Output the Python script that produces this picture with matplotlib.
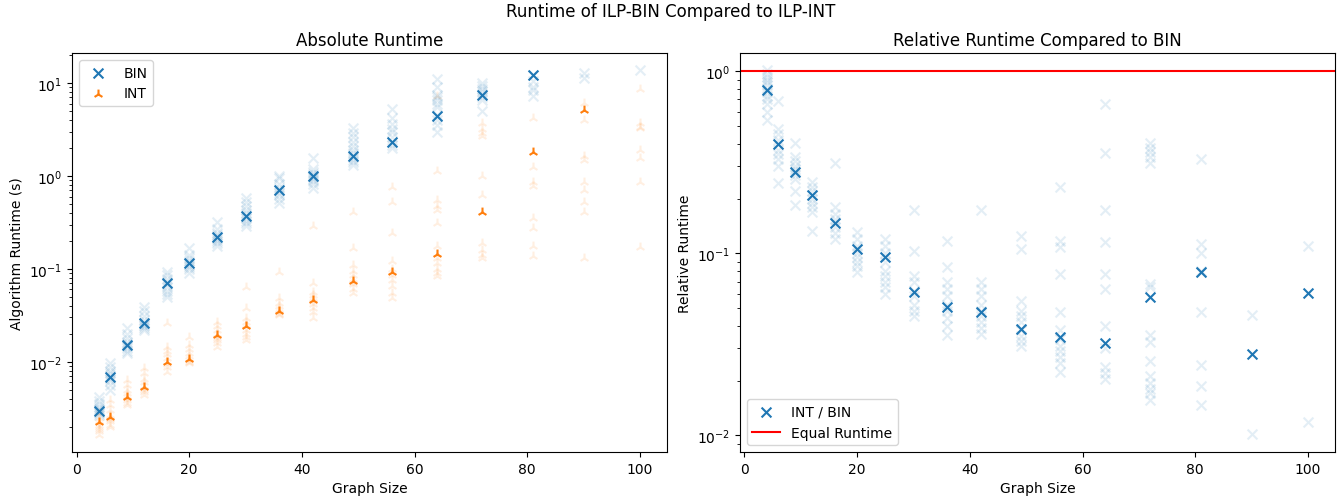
import matplotlib
matplotlib.use("Agg")
import matplotlib.pyplot as plt

# Graph sizes evaluated
sizes = [4, 6, 9, 12, 16, 20, 25, 30, 36, 42, 49, 56, 64, 72, 81, 90, 100]

# Individual runtimes (s) of ILP-BIN per graph size
bin_samples = [
    [0.0042, 0.0038, 0.0035, 0.0033, 0.0031, 0.0030, 0.0029, 0.0028, 0.0027],
    [0.0096, 0.0088, 0.0080, 0.0075, 0.0070, 0.0066, 0.0062, 0.0056, 0.0050],
    [0.0229, 0.020, 0.018, 0.0165, 0.0155, 0.0148, 0.014, 0.013, 0.0123],
    [0.039, 0.035, 0.031, 0.028, 0.026, 0.025, 0.024, 0.023, 0.022],
    [0.093, 0.085, 0.078, 0.072, 0.068, 0.063, 0.058, 0.054, 0.050],
    [0.167, 0.14, 0.13, 0.12, 0.115, 0.11, 0.105, 0.10, 0.09],
    [0.32, 0.27, 0.245, 0.23, 0.22, 0.21, 0.20, 0.19, 0.174],
    [0.58, 0.52, 0.47, 0.43, 0.40, 0.37, 0.35, 0.33, 0.31, 0.286],
    [1.0, 0.95, 0.82, 0.75, 0.70, 0.66, 0.62, 0.57, 0.51],
    [1.55, 1.2, 1.1, 1.05, 1.0, 0.97, 0.93, 0.88, 0.82, 0.74],
    [3.27, 2.9, 2.6, 2.3, 2.1, 1.9, 1.75, 1.6, 1.5, 1.4, 1.3],
    [5.2, 4.2, 3.6, 3.2, 3.0, 2.6, 2.3, 2.15, 2.0],
    [10.9, 9.0, 7.5, 7.0, 6.5, 6.0, 5.5, 4.5, 4.0, 3.5, 3.0],
    [10.0, 9.3, 8.6, 8.2, 7.6, 7.0, 6.5, 4.95],
    [12.3, 10.5, 9.0, 8.5, 7.2],
    [12.8, 11.3],
    [13.7],
]

# Individual runtimes (s) of ILP-INT per graph size
int_samples = [
    [0.0028, 0.0025, 0.0023, 0.0021, 0.0020, 0.0019, 0.0018, 0.00165],
    [0.0039, 0.0034, 0.0030, 0.0027, 0.0025, 0.0024, 0.0023, 0.0021, 0.0020],
    [0.0064, 0.0056, 0.0050, 0.0046, 0.0043, 0.0041, 0.0039, 0.0036, 0.0034],
    [0.0085, 0.0075, 0.0066, 0.0060, 0.0055, 0.0052, 0.0050, 0.0047, 0.0044],
    [0.026, 0.0145, 0.013, 0.012, 0.011, 0.010, 0.0095, 0.0088, 0.0078],
    [0.0186, 0.0151, 0.0138, 0.0125, 0.0115, 0.0108, 0.0104, 0.0100, 0.0096],
    [0.027, 0.024, 0.022, 0.020, 0.019, 0.018, 0.017, 0.016, 0.0146],
    [0.0645, 0.0376, 0.0295, 0.027, 0.025, 0.024, 0.022, 0.020, 0.0185, 0.0171],
    [0.093, 0.048, 0.043, 0.040, 0.037, 0.035, 0.034, 0.033, 0.032],
    [0.286, 0.070, 0.057, 0.052, 0.048, 0.045, 0.042, 0.038, 0.034, 0.0294],
    [0.414, 0.167, 0.110, 0.095, 0.085, 0.078, 0.072, 0.068, 0.060, 0.0546],
    [0.757, 0.518, 0.246, 0.12, 0.10, 0.092, 0.085, 0.075, 0.065, 0.055, 0.048],
    [7.2, 1.13, 0.553, 0.48, 0.43, 0.31, 0.174, 0.145, 0.13, 0.115, 0.10, 0.09, 0.083],
    [3.7, 3.2, 2.9, 2.67, 0.99, 0.63, 0.189, 0.16, 0.14, 0.13],
    [4.2, 1.26, 0.87, 0.77, 0.35, 0.274, 0.174, 0.136],
    [6.1, 4.0, 1.62, 1.49, 0.87, 0.71, 0.53, 0.41, 0.13],
    [8.6, 3.7, 3.4, 3.27, 1.9, 1.55, 0.87, 0.17],
]

# Median runtimes (s)
bin_sizes = [4, 6, 9, 12, 16, 20, 25, 30, 36, 42, 49, 56, 64, 72, 81]
bin_median = [0.00297, 0.0068, 0.0151, 0.026, 0.071, 0.115, 0.219, 0.366,
              0.697, 0.986, 1.62, 2.30, 4.45, 7.36, 12.3]
int_sizes = [4, 6, 9, 12, 16, 20, 25, 30, 36, 42, 49, 56, 64, 72, 81, 90]
int_median = [0.00226, 0.00252, 0.0042, 0.0053, 0.0100, 0.0106, 0.0194, 0.0245,
              0.0356, 0.0463, 0.0741, 0.0935, 0.145, 0.407, 1.80, 5.08]

# Per-instance runtime ratio INT / BIN
ratio_samples = [
    [1.02, 0.97, 0.93, 0.90, 0.87, 0.84, 0.80, 0.77, 0.73, 0.70, 0.66, 0.60, 0.54],
    [0.685, 0.48, 0.45, 0.42, 0.40, 0.37, 0.35, 0.33, 0.30, 0.243],
    [0.405, 0.34, 0.32, 0.30, 0.29, 0.28, 0.27, 0.255, 0.22, 0.184],
    [0.245, 0.23, 0.22, 0.21, 0.20, 0.19, 0.18, 0.168, 0.133],
    [0.314, 0.179, 0.165, 0.155, 0.148, 0.14, 0.13, 0.12],
    [0.131, 0.12, 0.11, 0.105, 0.10, 0.095, 0.09, 0.085, 0.079],
    [0.12, 0.11, 0.10, 0.095, 0.09, 0.08, 0.075, 0.07, 0.065, 0.06],
    [0.174, 0.103, 0.075, 0.07, 0.062, 0.058, 0.052, 0.048, 0.0455],
    [0.117, 0.084, 0.07, 0.064, 0.058, 0.052, 0.048, 0.044, 0.04, 0.0355],
    [0.174, 0.07, 0.064, 0.058, 0.052, 0.048, 0.045, 0.042, 0.039, 0.036],
    [0.125, 0.105, 0.055, 0.048, 0.045, 0.042, 0.038, 0.035, 0.033, 0.031],
    [0.230, 0.117, 0.108, 0.077, 0.0474, 0.038, 0.034, 0.031, 0.029, 0.027, 0.025, 0.0223],
    [0.663, 0.357, 0.173, 0.116, 0.077, 0.064, 0.040, 0.030, 0.0237, 0.022, 0.0205],
    [0.405, 0.38, 0.36, 0.34, 0.314, 0.068, 0.065, 0.0354, 0.0325, 0.0257,
     0.0213, 0.0195, 0.018, 0.017, 0.0156],
    [0.328, 0.112, 0.101, 0.080, 0.079, 0.0474, 0.0244, 0.0187, 0.0146],
    [0.0461, 0.0102],
    [0.110, 0.0118],
]
ratio_median = [0.794, 0.400, 0.278, 0.209, 0.146, 0.105, 0.0949, 0.0615, 0.0509,
                0.0478, 0.0384, 0.0349, 0.0322, 0.0573, 0.0786, 0.0280, 0.0605]

BLUE = "#1f77b4"
ORANGE = "#ff7f0e"
FAINT = 0.12


def flatten(xs, groups):
    px, py = [], []
    for x, g in zip(xs, groups):
        px.extend([x] * len(g))
        py.extend(g)
    return px, py


fig = plt.figure(figsize=(13.41, 5.02), dpi=100)
ax1 = fig.add_axes([0.0537, 0.0976, 0.4437, 0.7948])
ax2 = fig.add_axes([0.5518, 0.0976, 0.4437, 0.7948])

# Absolute runtimes
bx, by = flatten(sizes, bin_samples)
ix, iy = flatten(sizes, int_samples)
ax1.scatter(bx, by, marker="x", color=BLUE, alpha=FAINT, s=50)
ax1.scatter(ix, iy, marker="2", color=ORANGE, alpha=FAINT, s=50)
ax1.scatter(bin_sizes, bin_median, marker="x", color=BLUE, s=50, label="BIN")
ax1.scatter(int_sizes, int_median, marker="2", color=ORANGE, s=50, label="INT")
ax1.set_yscale("log")
ax1.set_ylim(1.07e-3, 21)
ax1.set_xlim(-0.8, 104.8)
ax1.set_title("Absolute Runtime")
ax1.set_xlabel("Graph Size")
ax1.set_ylabel("Algorithm Runtime (s)")
ax1.legend(loc="upper left")

# Relative runtimes
rx, ry = flatten(sizes, ratio_samples)
ax2.scatter(rx, ry, marker="x", color=BLUE, alpha=FAINT, s=50)
ax2.scatter(sizes, ratio_median, marker="x", color=BLUE, s=50, label="INT / BIN")
ax2.axhline(1.0, color="red", label="Equal Runtime")
ax2.set_yscale("log")
ax2.set_ylim(0.0081, 1.26)
ax2.set_xlim(-0.8, 104.8)
ax2.set_title("Relative Runtime Compared to BIN")
ax2.set_xlabel("Graph Size")
ax2.set_ylabel("Relative Runtime")
ax2.legend(loc="lower left")

fig.suptitle("Runtime of ILP-BIN Compared to ILP-INT", y=0.995)

fig.savefig("out.png", dpi=100)
